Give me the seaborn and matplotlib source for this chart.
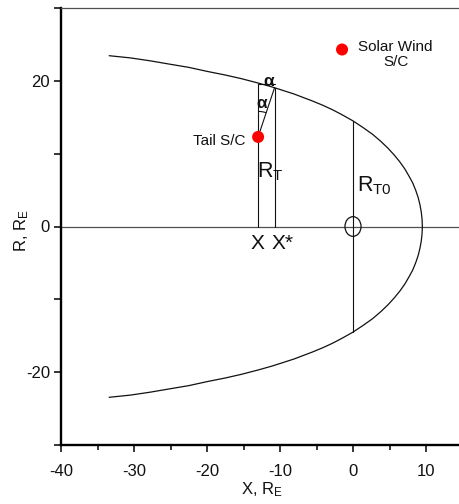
import matplotlib
matplotlib.use("Agg")
import matplotlib.pyplot as plt
from matplotlib.patches import Ellipse, Arc
from matplotlib.ticker import MultipleLocator
import numpy as np
import pandas as pd
import seaborn as sns

# Magnetopause boundary, upper half (X and R in Earth radii); the lower half mirrors it
boundary_x = [9.5, 9.46, 9.35, 9.17, 8.92, 8.58, 8.17, 7.68, 7.1, 6.43, 5.66, 4.79,
              3.8, 2.69, 1.43, 0.0, -1.6, -2.85, -4.15, -5.6, -8.1, -11.05, -13.0,
              -15.3, -17.5, -20.0, -22.5, -25.0, -27.8, -30.5, -33.4]
boundary_r = [0.0, 1.0, 2.0, 3.0, 4.0, 5.0, 6.0, 6.9, 7.9, 8.85, 9.8, 10.75,
              11.7, 12.65, 13.55, 14.5, 15.4, 16.05, 16.65, 17.25, 18.2, 19.15, 19.7,
              20.3, 20.8, 21.3, 21.85, 22.27, 22.75, 23.15, 23.45]

# Spacecraft positions
sc_names = ["Tail S/C", "Solar Wind\nS/C"]
sc_x = [-13.0, -1.5]
sc_r = [12.3, 24.3]

# Tail geometry
x_tail = -13.0        # X of the tail spacecraft
x_star = -10.75       # X* where the flaring line meets the boundary
r_top = 19.5          # height of the short horizontal bar
r_star = 19.05        # boundary radius at X*
r_t0 = 14.5           # boundary radius at X = 0

x_ticks = [-40, -30, -20, -10, 0, 10]
y_ticks = [-20, 0, 20]

sns.set_theme(style="ticks")
plt.rcParams["font.family"] = ["Liberation Sans", "DejaVu Sans"]
plt.rcParams["mathtext.fontset"] = "custom"
plt.rcParams["mathtext.rm"] = "Liberation Sans"
plt.rcParams["mathtext.it"] = "Liberation Sans:italic"
plt.rcParams["mathtext.bf"] = "Liberation Sans:bold"
plt.rcParams["axes.unicode_minus"] = False

fig = plt.figure(figsize=(4.59, 5.04), dpi=100)
ax = fig.add_axes([61 / 459, 1 - 445 / 504, 398 / 459, 437 / 504])
ax.set_facecolor("white")

ink = "#111111"
grey = "#505050"

# boundary curve: lower half from the tail to the nose, then upper half back
curve = pd.DataFrame({
    "x": boundary_x[::-1] + boundary_x[1:],
    "r": [-v for v in boundary_r[::-1]] + boundary_r[1:],
})
sns.lineplot(data=curve, x="x", y="r", sort=False, estimator=None,
             color=ink, lw=0.9, ax=ax)

# Sun-Earth line and the X = 0 cross section
ax.axhline(0, color=grey, lw=0.9, zorder=1)
ax.plot([0, 0], [-r_t0, r_t0], color=ink, lw=0.8)
ax.add_patch(Ellipse((0, 0), 2.2, 2.7, fill=False, ec=ink, lw=0.9))

# tail cross section construction
ax.plot([x_tail, x_tail], [0, r_top], color=ink, lw=0.8)
ax.plot([x_tail, x_star], [r_top, r_top], color=ink, lw=0.8)
ax.plot([x_star, x_star], [0, r_star], color=ink, lw=0.8)
ax.plot([sc_x[0], x_star], [sc_r[0], r_star], color=ink, lw=0.8)
ang = np.degrees(np.arctan2(r_star - sc_r[0], x_star - sc_x[0]))
ax.add_patch(Arc((sc_x[0], sc_r[0]), 7.0, 7.0, theta1=ang, theta2=90,
                 color=ink, lw=0.8))

sns.scatterplot(x=sc_x, y=sc_r, color="#ff0000", s=75, edgecolor="none",
                ax=ax, zorder=5, legend=False)

# labels
ax.text(-14.7, 11.8, sc_names[0], ha="right", va="center", fontsize=11, color=ink)
ax.text(5.85, 23.66, sc_names[1], ha="center", va="center", fontsize=11,
        linespacing=1.1, color=ink)
ax.text(-11.5, 19.85, "α", ha="center", va="center", fontsize=12.5,
        fontweight="bold", color=ink)
ax.text(-12.45, 16.9, "α", ha="center", va="center", fontsize=12.5,
        fontweight="bold", color=ink)
ax.text(-13.1, 6.7, r"R$_\mathregular{T}$", ha="left", va="baseline",
        fontsize=15.5, color=ink)
ax.text(0.5, 4.8, r"R$_\mathregular{T0}$", ha="left", va="baseline",
        fontsize=15.5, color=ink)
ax.text(-13.1, -3.1, "X", ha="center", va="baseline", fontsize=15, color=ink)
ax.text(-11.15, -3.1, "X*", ha="left", va="baseline", fontsize=15, color=ink)

ax.set_xlim(-40, 14.52)
ax.set_ylim(-30, 30)
ax.set_xticks(x_ticks)
ax.set_yticks(y_ticks)
ax.xaxis.set_minor_locator(MultipleLocator(5))
ax.yaxis.set_minor_locator(MultipleLocator(10))
ax.tick_params(axis="both", which="both", direction="out", color="black",
               width=1.1, labelsize=12, labelcolor=ink)
ax.tick_params(axis="x", which="major", length=5, pad=9)
ax.tick_params(axis="x", which="minor", length=3.6)
ax.tick_params(axis="y", which="both", length=5, pad=3)

ax.set_xlabel(r"X, R$_\mathregular{E}$", fontsize=12, color=ink)
ax.set_ylabel(r"R, R$_\mathregular{E}$", fontsize=12, color=ink)
ax.xaxis.set_label_coords(0.505, -0.08)
ax.yaxis.set_label_coords(-0.075, 0.49)

for side in ["left", "bottom"]:
    ax.spines[side].set_linewidth(1.7)
    ax.spines[side].set_color("black")
ax.spines["top"].set_visible(True)
ax.spines["top"].set_linewidth(0.9)
ax.spines["top"].set_color(grey)
ax.spines["right"].set_visible(False)

fig.savefig("out.png", dpi=100, facecolor="white")
